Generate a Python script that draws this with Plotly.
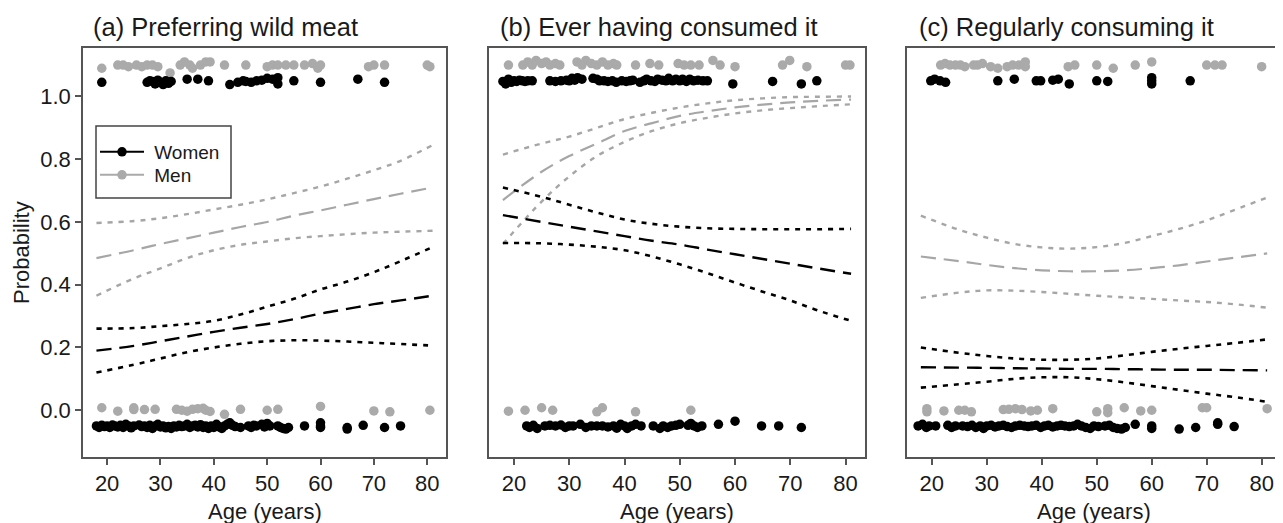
import plotly.graph_objects as go

# the page has an 8px body margin; figure is drawn inside it
PAGE_MARGIN = 8
VIEW_W, VIEW_H = 1283, 523
W, H = VIEW_W - PAGE_MARGIN, VIEW_H - PAGE_MARGIN


def px(x):
    return (x - PAGE_MARGIN) / W


def py(y):
    return 1 - (y - PAGE_MARGIN) / H


# ---------------- data ----------------
AGES = [18, 25, 30, 35, 40, 45, 50, 55, 60, 65, 70, 75, 81]

# (a) Preferring wild meat
A_WOMEN_FIT = [0.19, 0.205, 0.22, 0.235, 0.25, 0.263, 0.275, 0.29, 0.308, 0.323, 0.338, 0.35, 0.365]
A_WOMEN_HI = [0.26, 0.262, 0.268, 0.275, 0.285, 0.305, 0.33, 0.355, 0.385, 0.41, 0.44, 0.475, 0.52]
A_WOMEN_LO = [0.12, 0.145, 0.165, 0.185, 0.2, 0.212, 0.22, 0.223, 0.222, 0.219, 0.215, 0.211, 0.206]
A_MEN_FIT = [0.485, 0.51, 0.53, 0.548, 0.566, 0.584, 0.60, 0.62, 0.637, 0.655, 0.673, 0.69, 0.71]
A_MEN_HI = [0.597, 0.603, 0.612, 0.625, 0.64, 0.655, 0.672, 0.692, 0.713, 0.738, 0.765, 0.795, 0.845]
A_MEN_LO = [0.365, 0.42, 0.452, 0.485, 0.51, 0.527, 0.538, 0.548, 0.555, 0.561, 0.566, 0.569, 0.572]

# (b) Ever having consumed it
B_WOMEN_FIT = [0.622, 0.60, 0.585, 0.57, 0.555, 0.54, 0.528, 0.512, 0.497, 0.482, 0.467, 0.452, 0.435]
B_WOMEN_HI = [0.71, 0.68, 0.655, 0.63, 0.608, 0.594, 0.585, 0.58, 0.578, 0.577, 0.577, 0.577, 0.578]
B_WOMEN_LO = [0.533, 0.532, 0.528, 0.521, 0.51, 0.49, 0.465, 0.437, 0.407, 0.378, 0.35, 0.318, 0.285]
B_MEN_FIT = [0.67, 0.76, 0.81, 0.85, 0.89, 0.915, 0.938, 0.953, 0.965, 0.974, 0.981, 0.986, 0.99]
B_MEN_HI = [0.815, 0.85, 0.872, 0.9, 0.928, 0.948, 0.965, 0.978, 0.988, 0.994, 0.998, 0.999, 1.0]
B_MEN_LO = [0.53, 0.665, 0.745, 0.81, 0.855, 0.89, 0.915, 0.932, 0.946, 0.956, 0.963, 0.969, 0.975]

# (c) Regularly consuming it
C_WOMEN_FIT = [0.137, 0.136, 0.135, 0.134, 0.133, 0.132, 0.132, 0.131, 0.130, 0.129, 0.129, 0.128, 0.127]
C_WOMEN_HI = [0.2, 0.183, 0.173, 0.165, 0.161, 0.161, 0.165, 0.175, 0.186, 0.196, 0.205, 0.214, 0.226]
C_WOMEN_LO = [0.072, 0.083, 0.091, 0.1, 0.105, 0.105, 0.099, 0.089, 0.077, 0.065, 0.053, 0.042, 0.027]
C_MEN_FIT = [0.49, 0.475, 0.463, 0.453, 0.446, 0.443, 0.443, 0.446, 0.453, 0.462, 0.474, 0.486, 0.50]
C_MEN_HI = [0.62, 0.575, 0.55, 0.53, 0.519, 0.515, 0.52, 0.533, 0.555, 0.578, 0.605, 0.638, 0.678]
C_MEN_LO = [0.358, 0.375, 0.382, 0.381, 0.377, 0.371, 0.365, 0.36, 0.355, 0.35, 0.345, 0.338, 0.327]

# jittered observations (age, plotted position)
A_WOMEN_YES = [(19, 1.045), (27.5, 1.045), (28, 1.05), (28.5, 1.048), (29, 1.04), (29.5, 1.052), (30, 1.045),
               (30.5, 1.038), (31, 1.05), (31.5, 1.042), (32, 1.048), (35, 1.055), (37, 1.055), (39, 1.05),
               (43, 1.038), (44.5, 1.045), (45.5, 1.05), (46, 1.048), (47, 1.045), (48, 1.05), (49, 1.052),
               (50, 1.058), (51, 1.055), (52, 1.04), (52, 1.06), (55, 1.05), (60, 1.045), (67, 1.055), (72, 1.045)]
A_MEN_YES = [(19, 1.09), (22, 1.1), (23, 1.1), (24, 1.095), (25.5, 1.1), (26.5, 1.095), (27.5, 1.1), (28.5, 1.1),
             (29.5, 1.095), (31.8, 1.075), (33.7, 1.1), (34.5, 1.11), (35.5, 1.1), (36, 1.09), (37.5, 1.1),
             (38.5, 1.11), (39.3, 1.11), (42, 1.1), (46, 1.1), (50, 1.095), (51, 1.1), (52, 1.1), (53.5, 1.1),
             (55, 1.1), (57, 1.1), (58.5, 1.105), (59.5, 1.09), (60, 1.1), (69, 1.095), (70, 1.1), (72, 1.1),
             (80, 1.1), (80.5, 1.095)]
A_WOMEN_NO = [(18, -0.05), (18.5, -0.055), (19, -0.048), (19.5, -0.052), (20, -0.05), (20.5, -0.055), (21, -0.047),
              (21.5, -0.05), (22, -0.053), (22.5, -0.048), (23, -0.055), (23.5, -0.045), (24, -0.05), (24.5, -0.056),
              (25, -0.05), (26, -0.047), (26.5, -0.052), (27, -0.05), (27.5, -0.055), (28, -0.048), (28.5, -0.058),
              (29, -0.05), (29.5, -0.045), (30, -0.053), (30.5, -0.05), (31, -0.056), (31.5, -0.052), (32, -0.058),
              (32.5, -0.05), (33, -0.053), (33.5, -0.048), (34, -0.052), (34.5, -0.05), (35, -0.045), (35.5, -0.055),
              (36, -0.05), (36.5, -0.048), (37, -0.053), (37.5, -0.046), (38, -0.055), (38.5, -0.05), (39, -0.058),
              (39.5, -0.05), (40, -0.055), (40.5, -0.045), (41, -0.053), (41.5, -0.058), (42, -0.05), (42.5, -0.045),
              (43, -0.04), (43.5, -0.048), (44, -0.052), (45, -0.055), (46.5, -0.05), (47, -0.055), (47.5, -0.048),
              (48, -0.05), (49, -0.045), (49.5, -0.053), (50, -0.042), (50.5, -0.05), (52, -0.05), (52.5, -0.055),
              (53, -0.058), (53.5, -0.06), (54, -0.055), (57, -0.05), (60, -0.04), (60, -0.05), (60, -0.055),
              (65, -0.055), (65, -0.06), (68, -0.048), (72, -0.055), (75, -0.05)]
A_MEN_NO = [(19, 0.008), (22, -0.003), (25, 0.002), (25, 0.008), (27, 0.002), (29, 0.003), (33, 0.003), (34, 0.0),
            (35, -0.003), (36, 0.003), (37, 0.005), (38, 0.006), (38.5, 0.0), (39.3, -0.004), (42, -0.013),
            (45, 0.003), (50, 0.0), (52, 0.003), (60, 0.012), (70, -0.002), (73, -0.005), (80.5, 0.0)]

B_WOMEN_YES = [(18, 1.048), (18.5, 1.04), (19, 1.055), (19.5, 1.045), (20, 1.05), (20.5, 1.048), (21, 1.052),
               (21.5, 1.05), (22, 1.048), (22.5, 1.05), (23.3, 1.05), (26.5, 1.05), (27.5, 1.048), (28.5, 1.05),
               (29.5, 1.052), (30, 1.05), (30.5, 1.058), (31, 1.052), (31.5, 1.06), (32.3, 1.055), (34.3, 1.058),
               (35, 1.055), (35.5, 1.05), (36.3, 1.05), (37, 1.048), (37.8, 1.05), (38.5, 1.045), (39.5, 1.05),
               (40.3, 1.048), (41, 1.05), (41.5, 1.052), (42.8, 1.045), (43.5, 1.05), (44, 1.055), (44.8, 1.05),
               (45.5, 1.048), (46, 1.055), (46.8, 1.052), (47.5, 1.05), (48, 1.058), (48.7, 1.05), (49.3, 1.055),
               (50, 1.05), (50.5, 1.055), (51.2, 1.048), (51.8, 1.055), (52.5, 1.05), (53.3, 1.052), (54.2, 1.05),
               (55, 1.05), (59.6, 1.04), (66.8, 1.048), (72, 1.04), (74.8, 1.05)]
B_MEN_YES = [(19, 1.1), (21.6, 1.1), (22.5, 1.11), (23.3, 1.1), (24, 1.115), (25, 1.105), (25.8, 1.11), (26.5, 1.1),
             (27.5, 1.105), (28.3, 1.1), (31.4, 1.11), (32.3, 1.1), (33, 1.115), (34, 1.105), (35, 1.1), (36, 1.11),
             (37, 1.1), (38, 1.105), (38.6, 1.1), (42, 1.1), (44.6, 1.105), (46.2, 1.1), (49.7, 1.105), (50.8, 1.1),
             (52, 1.1), (53.5, 1.1), (56, 1.115), (57.3, 1.1), (60, 1.095), (68.6, 1.1), (69.9, 1.115), (73, 1.095),
             (80, 1.1), (80.8, 1.1)]
B_WOMEN_NO = [(22.3, -0.05), (22.8, -0.055), (23.5, -0.048), (24.2, -0.058), (25.6, -0.05), (26.5, -0.048),
              (27.5, -0.05), (28.5, -0.047), (29.3, -0.055), (30, -0.05), (30.7, -0.05), (32, -0.045), (33, -0.055),
              (34, -0.05), (35, -0.05), (36, -0.05), (37, -0.053), (38, -0.05), (38.6, -0.057), (39.3, -0.045),
              (40, -0.05), (40.5, -0.058), (41.3, -0.05), (42, -0.045), (43, -0.05), (45.2, -0.05), (46.4, -0.058),
              (47, -0.05), (47.8, -0.055), (48.5, -0.05), (49.3, -0.048), (50, -0.045), (51.5, -0.048), (52, -0.042),
              (52.6, -0.05), (53.2, -0.055), (54, -0.05), (57, -0.045), (60, -0.035), (64.8, -0.05), (67.9, -0.05),
              (72, -0.055)]
B_MEN_NO = [(19, -0.003), (22, 0.0), (25, 0.008), (27, 0.0), (35, -0.005), (36, 0.008), (42, -0.005), (52, 0.0)]

C_WOMEN_YES = [(19.8, 1.05), (20.5, 1.055), (21.5, 1.05), (22.5, 1.045), (32, 1.05), (35, 1.055), (39, 1.05),
               (39.8, 1.05), (42, 1.052), (43, 1.055), (45, 1.04), (50, 1.05), (52, 1.048), (60, 1.04), (60, 1.05),
               (60, 1.06), (67, 1.05)]
C_MEN_YES = [(21.6, 1.1), (22.4, 1.105), (23.3, 1.1), (24.3, 1.1), (25.2, 1.1), (26, 1.095), (27.6, 1.1), (28.3, 1.1),
             (29.2, 1.105), (30.7, 1.095), (32, 1.09), (33.7, 1.095), (34.7, 1.1), (35.8, 1.1), (37, 1.095),
             (37, 1.11), (44.8, 1.095), (46, 1.1), (50, 1.1), (53, 1.09), (57, 1.1), (60, 1.11), (70, 1.1),
             (71.5, 1.1), (72.8, 1.1), (80, 1.095)]
C_WOMEN_NO = [(17.5, -0.05), (18.3, -0.045), (19, -0.055), (19.5, -0.05), (20.7, -0.05), (22.9, -0.048), (23.6, -0.055),
              (24.3, -0.05), (25.6, -0.05), (26.5, -0.052), (27.3, -0.048), (28, -0.055), (28.8, -0.05), (29.4, -0.058),
              (30, -0.05), (30.8, -0.048), (31.5, -0.053), (32.2, -0.05), (33, -0.048), (33.7, -0.052), (34.5, -0.055),
              (35.2, -0.05), (36, -0.048), (36.8, -0.05), (37.5, -0.052), (38.2, -0.05), (39, -0.048), (39.8, -0.055),
              (40.5, -0.05), (41.2, -0.048), (42, -0.053), (42.8, -0.05), (43.5, -0.048), (44.2, -0.05), (45, -0.052),
              (45.8, -0.05), (46.5, -0.045), (47.2, -0.05), (48, -0.055), (48.8, -0.058), (49.5, -0.05), (50.3, -0.052),
              (51.5, -0.05), (52.3, -0.048), (53, -0.055), (53.7, -0.058), (54.5, -0.06), (55.2, -0.055), (57, -0.045),
              (60, -0.05), (60, -0.058), (65, -0.06), (68, -0.055), (72, -0.045), (72, -0.04), (75, -0.052)]
C_MEN_NO = [(19.1, 0.005), (19.1, -0.005), (22.2, -0.002), (24.9, 0.0), (26, 0.0), (27.2, -0.005), (33, 0.002),
            (34, 0.003), (35.2, 0.005), (36.4, 0.002), (38, -0.002), (39.2, 0.0), (42, 0.005), (50, -0.005),
            (52, 0.005), (52, -0.008), (55, 0.008), (58, -0.002), (60, 0.0), (69.2, 0.008), (70, 0.008), (81, 0.005)]

TITLES = ["(a) Preferring wild meat", "(b) Ever having consumed it", "(c) Regularly consuming it"]
X_TICKS = [20, 30, 40, 50, 60, 70, 80]
Y_TICKS = [0.0, 0.2, 0.4, 0.6, 0.8, 1.0]

# ---------------- style ----------------
FONT = "Liberation Sans, Arial, Helvetica, sans-serif"
BLACK = "#000000"
GREY_PT = "#aaaaaa"
GREY_LN = "#a6a6a6"
AXC = "#555555"
TXT = "#1a1a1a"
DASH = "15px,8px"
DOT = "5px,6px"
MS = 9.5

panels = [
    dict(fit=(A_WOMEN_FIT, A_WOMEN_HI, A_WOMEN_LO, A_MEN_FIT, A_MEN_HI, A_MEN_LO),
         pts=(A_WOMEN_YES, A_WOMEN_NO, A_MEN_YES, A_MEN_NO)),
    dict(fit=(B_WOMEN_FIT, B_WOMEN_HI, B_WOMEN_LO, B_MEN_FIT, B_MEN_HI, B_MEN_LO),
         pts=(B_WOMEN_YES, B_WOMEN_NO, B_MEN_YES, B_MEN_NO)),
    dict(fit=(C_WOMEN_FIT, C_WOMEN_HI, C_WOMEN_LO, C_MEN_FIT, C_MEN_HI, C_MEN_LO),
         pts=(C_WOMEN_YES, C_WOMEN_NO, C_MEN_YES, C_MEN_NO)),
]

# pixel geometry (screen coordinates) of the three plot boxes
BOX_X = [(83, 446), (489, 865), (907, 1281)]
BOX_Y = (48, 457)

fig = go.Figure()

for i, p in enumerate(panels):
    xa = "x" if i == 0 else f"x{i+1}"
    ya = "y" if i == 0 else f"y{i+1}"
    wf, wh, wl, mf, mh, ml = p["fit"]
    wy, wn, my, mn = p["pts"]
    for pts in (my, mn):
        fig.add_trace(go.Scatter(x=[a for a, _ in pts], y=[v for _, v in pts], mode="markers",
                                 marker=dict(color=GREY_PT, size=MS), xaxis=xa, yaxis=ya,
                                 showlegend=False, hoverinfo="skip"))
    for pts in (wy, wn):
        fig.add_trace(go.Scatter(x=[a for a, _ in pts], y=[v for _, v in pts], mode="markers",
                                 marker=dict(color=BLACK, size=MS), xaxis=xa, yaxis=ya,
                                 showlegend=False, hoverinfo="skip"))
    for series, col, dash, lw in ((mh, GREY_LN, DOT, 2.4), (ml, GREY_LN, DOT, 2.4), (mf, GREY_LN, DASH, 2.2),
                                  (wh, BLACK, DOT, 2.6), (wl, BLACK, DOT, 2.6), (wf, BLACK, DASH, 2.4)):
        fig.add_trace(go.Scatter(x=AGES, y=series, mode="lines",
                                 line=dict(color=col, width=lw, dash=dash, shape="spline", smoothing=1),
                                 xaxis=xa, yaxis=ya, showlegend=False, hoverinfo="skip"))

# legend entries (one legend per row so the rows can be placed exactly)
for name, col, lg in (("\u00a0Women", BLACK, "legend"), ("\u00a0Men", GREY_PT, "legend2")):
    fig.add_trace(go.Scatter(x=[None], y=[None], mode="lines+markers", name=name, legend=lg,
                             line=dict(color=col, width=2), marker=dict(color=col, size=MS),
                             xaxis="x", yaxis="y"))

ydom = [py(BOX_Y[1]), py(BOX_Y[0])]
common_x = dict(range=[15.48, 83.52], tickvals=X_TICKS, ticks="outside", ticklen=6, tickwidth=1.5,
                tickcolor=AXC, showline=True, linecolor=AXC, linewidth=1.5, mirror=True,
                showgrid=False, zeroline=False, tickfont=dict(size=22, color=TXT, family=FONT))
common_y = dict(range=[-0.149, 1.1545], tickvals=Y_TICKS, tickformat=".1f", ticks="outside", ticklen=6,
                tickwidth=1.5, tickcolor=AXC, showline=True, linecolor=AXC, linewidth=1.5, mirror=True,
                showgrid=False, zeroline=False, tickfont=dict(size=22, color=TXT, family=FONT), domain=ydom)

leg_common = dict(xanchor="left", yanchor="middle", bgcolor="rgba(0,0,0,0)", borderwidth=0,
                  font=dict(size=19, color=TXT, family=FONT), itemwidth=44)
layout = dict(width=W, height=H, margin=dict(l=0, r=0, t=0, b=0), plot_bgcolor="white",
              paper_bgcolor="white", font=dict(family=FONT, color=TXT),
              legend=dict(leg_common, x=px(95), y=py(152)),
              legend2=dict(leg_common, x=px(95), y=py(175)))
for i, (x0, x1) in enumerate(BOX_X):
    xk = "xaxis" if i == 0 else f"xaxis{i+1}"
    yk = "yaxis" if i == 0 else f"yaxis{i+1}"
    xd = dict(common_x, domain=[px(x0), px(x1)], anchor="y" if i == 0 else f"y{i+1}")
    yd = dict(common_y, anchor="x" if i == 0 else f"x{i+1}")
    if i > 0:
        yd.update(showticklabels=False, ticks="")
    layout[xk] = xd
    layout[yk] = yd
fig.update_layout(**layout)

# legend frame
fig.add_shape(type="rect", xref="paper", yref="paper", x0=px(96), x1=px(231), y0=py(198), y1=py(126),
              line=dict(color="#444444", width=1.5), fillcolor="rgba(0,0,0,0)", layer="above")

ann = []
title_left = [91, 498, 917]
for i, (x0, x1) in enumerate(BOX_X):
    ann.append(dict(text=TITLES[i], x=px(title_left[i]), y=py(27), xref="paper", yref="paper",
                    xanchor="left", yanchor="middle", showarrow=False,
                    font=dict(size=25.5, color=TXT, family=FONT)))
    ann.append(dict(text="Age (years)", x=px((x0 + x1) / 2), y=py(511), xref="paper", yref="paper",
                    xanchor="center", yanchor="middle", showarrow=False,
                    font=dict(size=22, color=TXT, family=FONT)))
ann.append(dict(text="Probability", x=px(21), y=py(253), xref="paper", yref="paper", textangle=-90,
                xanchor="center", yanchor="middle", showarrow=False, font=dict(size=22, color=TXT, family=FONT)))
fig.update_layout(annotations=ann)

fig.write_html("out.html")
